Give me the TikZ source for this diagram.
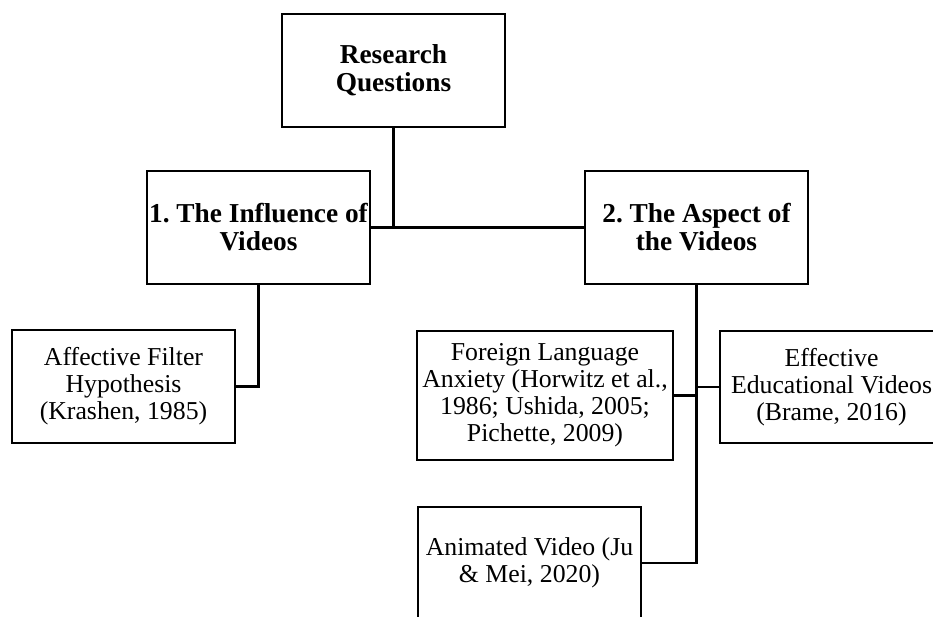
\documentclass[tikz,border=0pt]{standalone}
\usepackage{fontspec}
\setmainfont{Liberation Serif}
\usetikzlibrary{positioning}
\frenchspacing

\begin{document}
\begin{tikzpicture}[
    font=\fontsize{13.2}{13.8}\selectfont,
    box/.style={draw, line width=1.1pt, align=center, inner sep=1pt,
                minimum width=4.014cm, minimum height=2.02cm},
    head/.style={box, font=\fontsize{14}{14.3}\selectfont\bfseries},
    link/.style={line width=1.1pt},
]
\useasboundingbox (0,0) rectangle (16.794,-11.088);
\clip (0,0) rectangle (16.794,-11.088);

% questions
\node[head] (RQ) at (7.083,-1.269) {Research\\Questions};
\node[head] (Q1) at (4.653,-4.095) {1. The Influence of\\Videos};
\node[head] (Q2) at (12.537,-4.095) {2. The Aspect of\\the Videos};

% theories
\node[box] (AF) at (2.223,-6.957) {Affective Filter\\Hypothesis\\(Krashen, 1985)};
\node[box, minimum width=4.608cm, minimum height=2.322cm] (FL) at (9.81,-7.119)
    {Foreign Language\\Anxiety (Horwitz et al.,\\1986; Ushida, 2005;\\Pichette, 2009)};
\node[box] (EV) at (14.967,-6.966) {Effective\\Educational Videos\\(Brame, 2016)};
\node[box] (AV) at (9.531,-10.134) {Animated Video (Ju\\\& Mei, 2020)};

\draw[link] (RQ.south) -- (RQ.south |- Q1.east);
\draw[link] (Q1.east) -- (Q2.west);
\draw[link] (Q1.south) |- (AF.east);
\draw[link] (Q2.south) |- (AV.east);
\draw[link] (FL.east) -- (FL.east -| Q2.south);
\draw[link] (EV.west) -- (EV.west -| Q2.south);

\end{tikzpicture}
\end{document}
